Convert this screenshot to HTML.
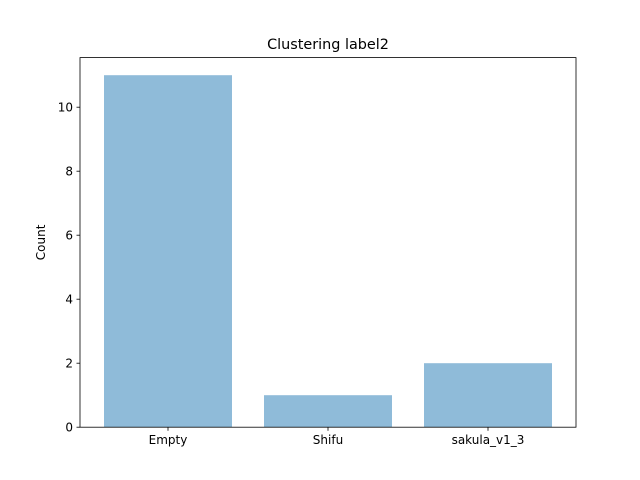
<!DOCTYPE html>
<html><head><meta charset="utf-8"><style>
body{margin:0;background:#fff;}
svg{display:block;font-family:"DejaVu Sans","Liberation Sans",sans-serif;}
</style></head><body>
<svg id="chart" width="640" height="480">
<rect width="640" height="480" fill="#fff"/>
<text x="328" y="49" text-anchor="middle" font-size="14.4">Clustering label2</text>
<g id="bars"></g>
<g id="axes"></g>
</svg>
<script>
const categories = ["Empty", "Shifu", "sakula_v1_3"];
const counts = [11, 1, 2];
const yTicks = [0, 2, 4, 6, 8, 10];

const L = 80, R = 576, T = 57.6, B = 427.2;
const yMax = Math.max(...counts) * 1.05;
const xMin = -0.55, xMax = categories.length - 1 + 0.55;
const xs = i => L + (i - xMin) / (xMax - xMin) * (R - L);
const ys = v => B - v / yMax * (B - T);
const NS = "http://www.w3.org/2000/svg";
const bars = document.getElementById('bars');
const axes = document.getElementById('axes');
function mk(tag, attrs, parent) {
  const e = document.createElementNS(NS, tag);
  for (const k in attrs) e.setAttribute(k, attrs[k]);
  parent.appendChild(e);
  return e;
}
const bw = 0.8 * (R - L) / (xMax - xMin);
categories.forEach((c, i) => {
  const r = mk('rect', {x: xs(i) - bw / 2, y: ys(counts[i]), width: bw, height: B - ys(counts[i]), fill: '#8fbbd9'}, bars);
  
  
  const t = mk('line', {x1: xs(i), x2: xs(i), y1: B, y2: B + 3.5, stroke: '#000', 'stroke-width': 0.8}, axes);
  
  
  const lb = mk('text', {x: xs(i), y: B + 17, 'text-anchor': 'middle', 'font-size': 12}, axes);
  lb.textContent = c;
  
  
});
yTicks.forEach(v => {
  const t = mk('line', {x1: L - 3.5, x2: L, y1: ys(v), y2: ys(v), stroke: '#000', 'stroke-width': 0.8}, axes);
  
  
  const lb = mk('text', {x: L - 7, y: ys(v) + 4.5, 'text-anchor': 'end', 'font-size': 12}, axes);
  lb.textContent = v;
  
  
});
const frame = mk('rect', {x: L, y: T, width: R - L, height: B - T, fill: 'none', stroke: '#000', 'stroke-width': 0.8}, axes);


const yl = mk('text', {x: 45, y: (T + B) / 2, 'text-anchor': 'middle', 'font-size': 12, transform: `rotate(-90 45 ${(T + B) / 2})`}, axes);
yl.textContent = 'Count';


</script>
</body></html>
